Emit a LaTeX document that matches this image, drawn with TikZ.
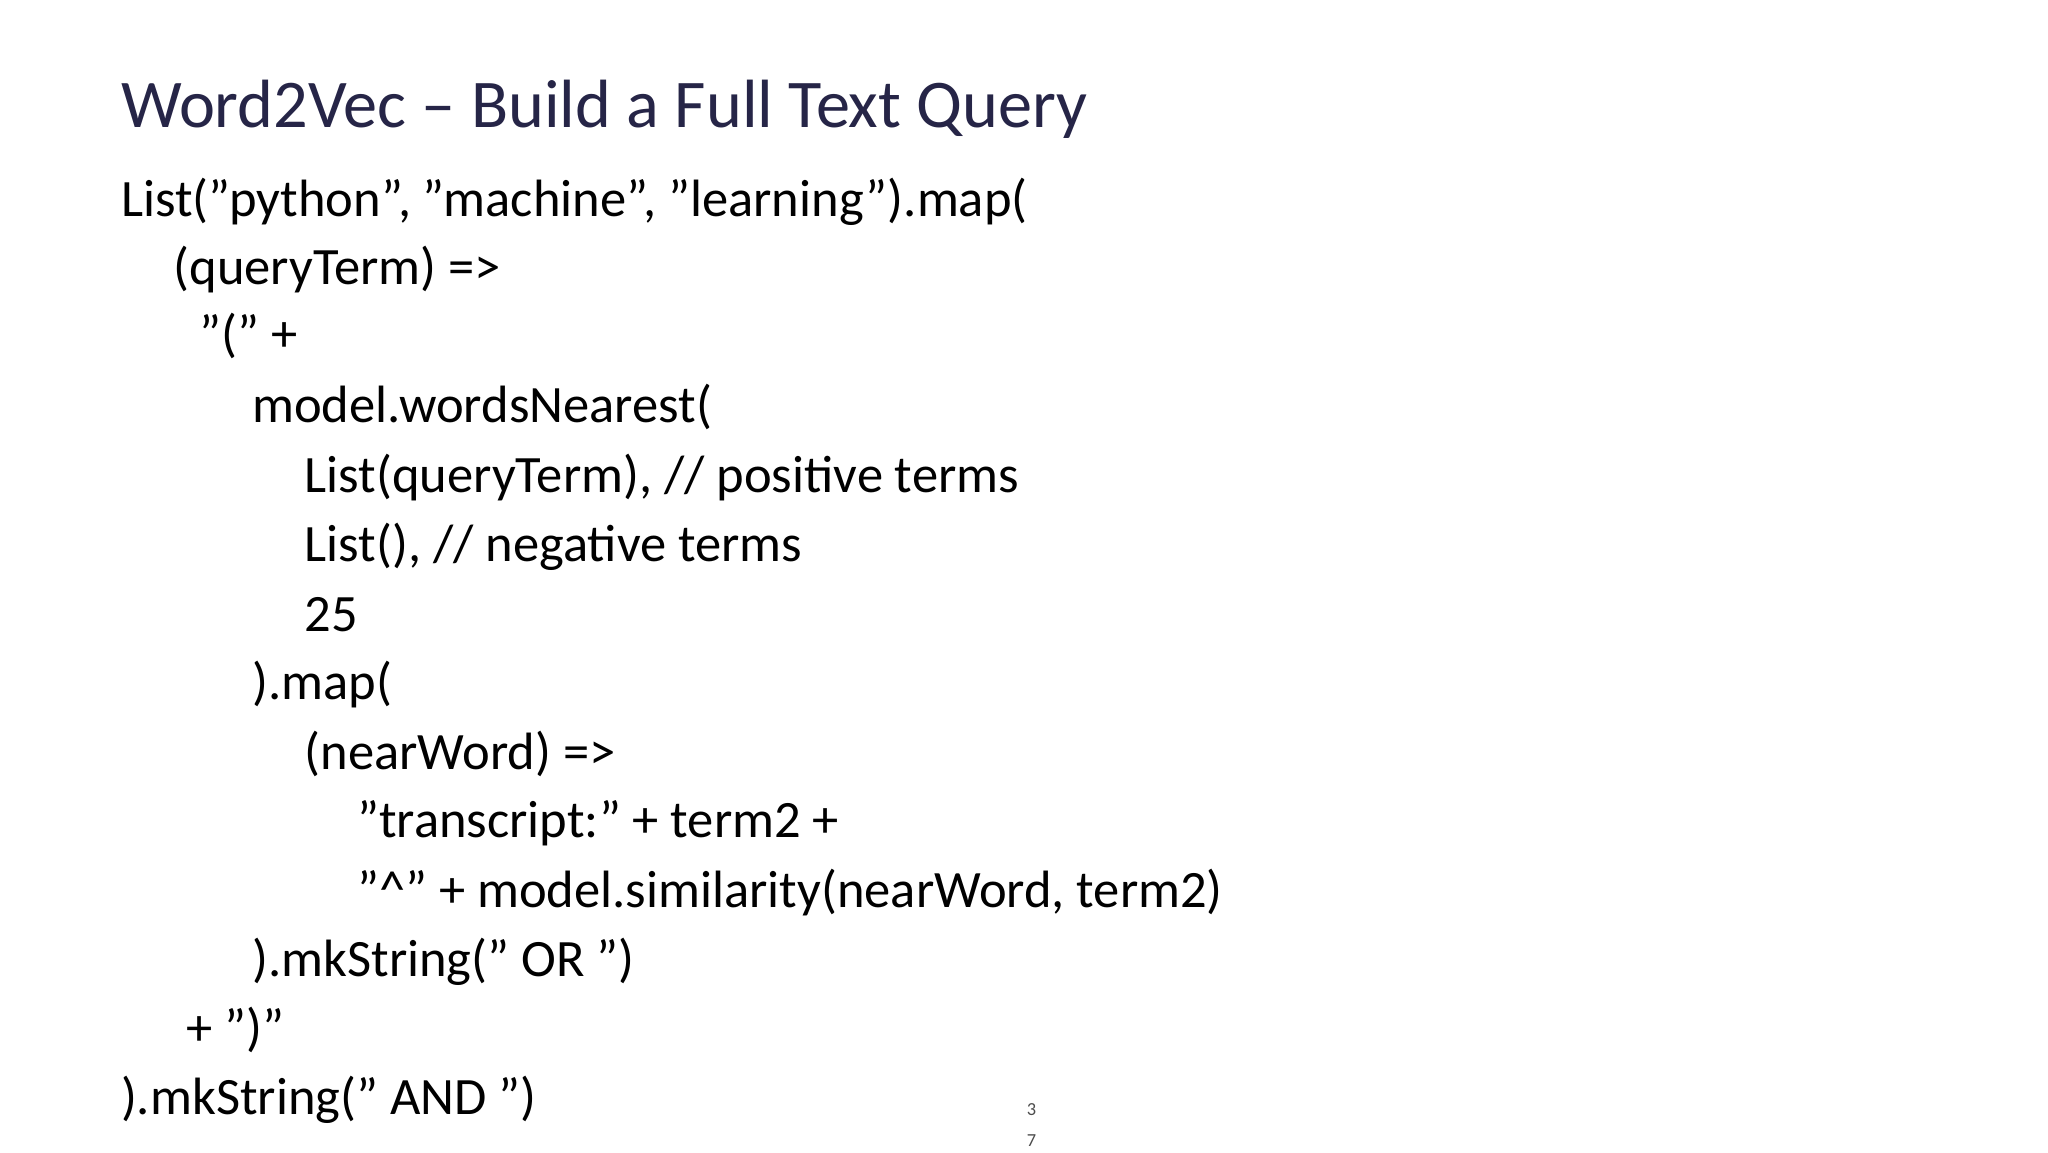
\documentclass[tikz,border=0pt]{standalone}
\usepackage{fontspec}
\setmainfont{Carlito}
\definecolor{titlec}{HTML}{262547}
\begin{document}
\begin{tikzpicture}[x=1pt,y=-1pt,
  codeline/.style={anchor=base west,inner sep=0pt,font=\fontsize{40}{40}\selectfont,text=black},
  titletext/.style={anchor=base west,inner sep=0pt,font=\fontsize{52}{52}\selectfont,text=titlec},
  pagenum/.style={anchor=base west,inner sep=0pt,font=\fontsize{14}{14}\selectfont,text=black!70}]
\useasboundingbox (0,0) rectangle (1560,878);
\fill[white] (0,0) rectangle (1560,878);
\node[titletext] (title) at (92,97) {Word2Vec – Build a Full Text Query};
\node[codeline] (l1) at (92,165) {List("python", "machine", "learning").map(};
\node[codeline] (l2) at (132,217) {(queryTerm) =>};
\node[codeline] (l3) at (152,268) {"(" +};
\node[codeline] (l4) at (192,322) {model.wordsNearest(};
\node[codeline] (l5) at (232,375) {List(queryTerm), // positive terms};
\node[codeline] (l6) at (232,428) {List(), // negative terms};
\node[codeline] (l7) at (232,481) {25};
\node[codeline] (l8) at (192,533) {).map(};
\node[codeline] (l9) at (232,586) {(nearWord) =>};
\node[codeline] (l10) at (272,638) {"transcript:" + term2 +};
\node[codeline] (l11) at (272,691) {"\^{}" + model.similarity(nearWord, term2)};
\node[codeline] (l12) at (192,744) {).mkString(" OR ")};
\node[codeline] (l13) at (142,796) {+ ")"};
\node[codeline] (l14) at (92,849) {).mkString(" AND ")};
\node[pagenum] (p1) at (782,850) {3};
\node[pagenum] (p2) at (782,873) {7};
\end{tikzpicture}
\end{document}
